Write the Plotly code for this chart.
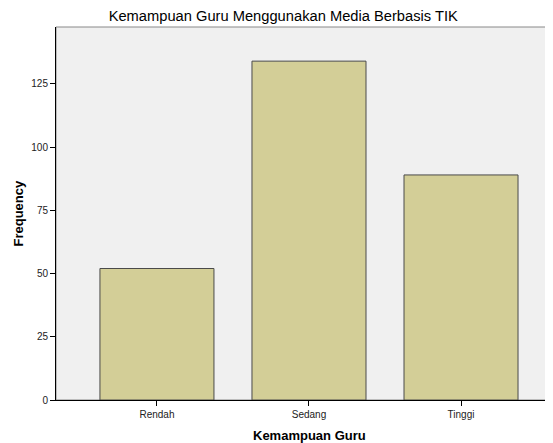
import plotly.graph_objects as go

categories = ['Rendah', 'Sedang', 'Tinggi']
frequency = [52, 134, 89]
y_ticks = [0, 25, 50, 75, 100, 125]

# page body has an 8px margin, so the figure is made 8px smaller
fig = go.Figure(go.Bar(
    x=categories,
    y=frequency,
    width=0.75,
    marker=dict(color='#D3CE97', line=dict(color='#4A4A4A', width=1)),
))

fig.update_layout(
    width=545, height=435,
    margin=dict(l=48, r=0, t=19, b=43, autoexpand=False),
    paper_bgcolor='white',
    plot_bgcolor='#F0F0F0',
    font=dict(family='Liberation Sans, Arial', color='#222222'),
    title=dict(text='Kemampuan Guru Menggunakan Media Berbasis TIK',
               x=0.505, xanchor='center', y=1 - 8 / 435, yanchor='middle',
               font=dict(size=14.7, color='black')),
    showlegend=False,
    shapes=[dict(type='rect', xref='paper', yref='paper', x0=0, x1=1, y0=0, y1=1,
                 line=dict(color='#888888', width=1), layer='below')],
    annotations=[
        dict(text='<b>Kemampuan Guru</b>', xref='paper', yref='paper',
             x=(309 - 56) / 497, y=-35 / 373, xanchor='center', yanchor='middle',
             showarrow=False, font=dict(size=13, color='black')),
        dict(text='<b>Frequency</b>', xref='paper', yref='paper',
             x=-38 / 497, y=0.5, xanchor='center', yanchor='middle', textangle=-90,
             showarrow=False, font=dict(size=13, color='black')),
    ],
)

fig.update_xaxes(
    range=[-0.664, 2.605], automargin=False,
    showgrid=False, showline=True, linecolor='black', linewidth=1,
    ticks='outside', ticklen=5, tickcolor='black',
    tickfont=dict(size=10, color='#222222'),
)
fig.update_yaxes(
    range=[0, 147.5], automargin=False,
    tickvals=y_ticks,
    showgrid=False, zeroline=False, showline=True, linecolor='black', linewidth=1,
    ticks='outside', ticklen=5, tickcolor='black',
    tickfont=dict(size=10, color='#222222'),
)

fig.write_html('out.html')
